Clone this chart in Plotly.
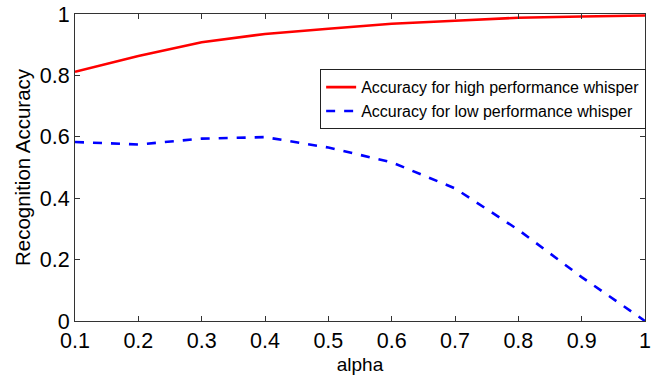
import plotly.graph_objects as go

alpha = [0.1, 0.2, 0.3, 0.4, 0.5, 0.6, 0.7, 0.8, 0.9, 1.0]
high_acc = [0.812, 0.863, 0.908, 0.935, 0.952, 0.968, 0.978, 0.988, 0.992, 0.995]
low_acc = [0.583, 0.575, 0.594, 0.599, 0.565, 0.517, 0.432, 0.297, 0.143, 0.0]

x_ticks = [0.1, 0.2, 0.3, 0.4, 0.5, 0.6, 0.7, 0.8, 0.9, 1.0]
x_ticktext = ["0.1", "0.2", "0.3", "0.4", "0.5", "0.6", "0.7", "0.8", "0.9", "1"]
y_ticks = [0, 0.2, 0.4, 0.6, 0.8, 1.0]
y_ticktext = ["0", "0.2", "0.4", "0.6", "0.8", "1"]

font_family = "Liberation Sans, Arial, Helvetica, sans-serif"

fig = go.Figure()
fig.add_trace(go.Scatter(x=alpha, y=high_acc, mode="lines",
                         name="Accuracy for high performance whisper",
                         line=dict(color="#ff0000", width=2.6)))
fig.add_trace(go.Scatter(x=alpha, y=low_acc, mode="lines",
                         name="Accuracy for low performance whisper",
                         line=dict(color="#0000ff", width=2.6, dash="dash")))

axis_common = dict(showline=True, linecolor="#333333", linewidth=1.2, mirror="ticks",
                   ticks="inside", ticklen=5, tickcolor="#333333", tickwidth=1,
                   showgrid=False, zeroline=False, ticklabeloverflow="allow",
                   tickfont=dict(family=font_family, size=21.5, color="black"))

fig.update_layout(
    width=653, height=375,
    margin=dict(l=75, r=2, t=14, b=54),
    paper_bgcolor="white", plot_bgcolor="white",
    font=dict(family=font_family, color="black"),
    xaxis=dict(range=[0.1, 1.0], tickvals=x_ticks, ticktext=x_ticktext,
               title=dict(text="alpha", font=dict(size=19), standoff=7), **axis_common),
    yaxis=dict(range=[0, 1.0], tickvals=y_ticks, ticktext=y_ticktext,
               title=dict(text="Recognition Accuracy", font=dict(size=20.5), standoff=3), **axis_common),
    legend=dict(x=1.002, y=0.82, xanchor="right", yanchor="top",
                bordercolor="#222222", borderwidth=1, bgcolor="white",
                font=dict(size=16, family=font_family), tracegroupgap=0,
                itemwidth=30),
    showlegend=True,
)

fig.write_html("out.html")
